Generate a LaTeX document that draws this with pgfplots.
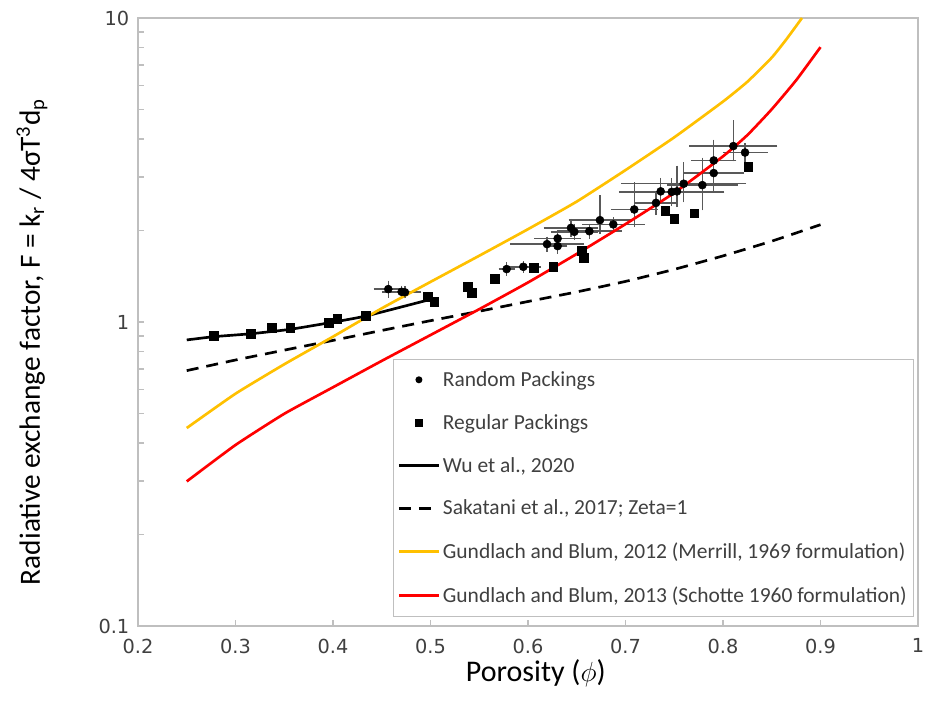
\documentclass[border=0pt]{standalone}
\usepackage{fontspec}
\setmainfont{Carlito}
\newfontfamily\tickfont{DejaVu Sans}
\usepackage{pgfplots}
\pgfplotsset{compat=1.18}
\definecolor{axgray}{HTML}{BFBFBF}
\definecolor{txtgray}{HTML}{404040}
\definecolor{errgray}{HTML}{595959}
\definecolor{gold}{HTML}{FFC000}
\definecolor{pred}{HTML}{FF0000}

\pgfplotstableread{
x y ex eyp eym
0.4567 1.283 0.011 0.045 0.045
0.4704 1.257 0.016 0.020 0.020
0.4738 1.252 0.004 0.020 0.020
0.5781 1.493 0.004 0.030 0.030
0.5952 1.519 0.014 0.020 0.020
0.6195 1.804 0.034 0.050 0.050
0.6304 1.777 0.006 0.050 0.050
0.6304 1.883 0.020 0.060 0.060
0.6441 2.040 0.024 0.080 0.080
0.6475 1.980 0.020 0.060 0.060
0.6629 1.990 0.029 0.050 0.050
0.6738 2.163 0.028 0.370 0.150
0.6875 2.094 0.028 0.050 0.050
0.7090 2.345 0.020 0.450 0.230
0.7313 2.465 0.018 0.150 0.150
0.7361 2.690 0.020 0.200 0.150
0.7474 2.680 0.050 0.200 0.200
0.7528 2.690 0.030 0.480 0.230
0.7597 2.850 0.060 0.400 0.300
0.7788 2.820 0.032 0.550 0.420
0.7905 3.090 0.027 0.300 0.300
0.7905 3.400 0.019 0.460 0.300
0.8106 3.790 0.041 0.680 0.310
0.8226 3.610 0.019 0.150 0.150
}\randomdata

\pgfplotstableread{
x y
0.2779 0.900
0.3159 0.915
0.3368 0.958
0.3562 0.958
0.3959 0.995
0.4044 1.023
0.4335 1.046
0.4971 1.211
0.5039 1.163
0.5381 1.306
0.5422 1.248
0.5662 1.384
0.6058 1.512
0.6260 1.519
0.6554 1.715
0.6571 1.623
0.7408 2.320
0.7500 2.180
0.7705 2.280
0.8260 3.250
}\regulardata

\pgfplotstableread{
x y
0.250 0.873
0.278 0.895
0.316 0.915
0.356 0.946
0.397 0.995
0.4335 1.046
0.497 1.180
}\wudata

\pgfplotstableread{
x y
0.25 0.692
0.30 0.750
0.35 0.808
0.40 0.870
0.45 0.938
0.50 1.010
0.55 1.085
0.60 1.168
0.65 1.256
0.70 1.360
0.75 1.490
0.80 1.650
0.85 1.845
0.90 2.090
}\sakatanidata

\pgfplotstableread{
x y
0.25 0.448
0.30 0.581
0.35 0.726
0.40 0.895
0.45 1.109
0.50 1.355
0.55 1.652
0.60 2.020
0.65 2.490
0.70 3.160
0.75 4.050
0.80 5.310
0.825 6.170
0.85 7.410
0.865 8.510
0.881 10.00
}\merrilldata

\pgfplotstableread{
x y
0.25 0.299
0.30 0.394
0.35 0.499
0.40 0.610
0.45 0.745
0.50 0.906
0.55 1.102
0.60 1.349
0.65 1.675
0.70 2.099
0.75 2.661
0.80 3.508
0.825 4.120
0.85 5.010
0.875 6.240
0.90 8.020
}\schottedata

\begin{document}
\begin{tikzpicture}[x=1pt,y=1pt]
\path[use as bounding box] (-103.5,-57.75) rectangle (594.75,469.5);
\begin{axis}[
  at={(0,0)}, anchor=south west,
  scale only axis, width=585pt, height=456pt,
  xmin=0.2, xmax=1, ymin=0.1, ymax=10, ymode=log,
  xtick={0.2,0.3,0.4,0.5,0.6,0.7,0.8,0.9,1.0},
  xticklabels={0.2,0.3,0.4,0.5,0.6,0.7,0.8,0.9,1},
  ytick={0.1,1,10}, yticklabels={0.1,1,10},
  /pgf/number format/assume math mode=true,
  axis line style={axgray, line width=1.1pt},
  tick style={axgray, line width=0.9pt},
  major tick length=4.5pt, minor tick length=4.5pt,
  xtick pos=bottom, ytick pos=left, tick align=inside,
  ticklabel style={font=\tickfont\fontsize{14.5}{16}\selectfont, text=txtgray},
  xticklabel style={yshift=-6pt},
  yticklabel style={xshift=-3pt},
  xlabel={Porosity ($\phi$)},
  ylabel={Radiative exchange factor, F = k\textsubscript{r} / 4σT\textsuperscript{3}d\textsubscript{p}},
  label style={text=black},
  xlabel style={font=\fontsize{22.5}{26}\selectfont, at={(axis description cs:0.51,-0.078)}, anchor=center},
  ylabel style={font=\fontsize{22}{26}\selectfont, at={(axis description cs:-0.136,0.467)}, anchor=center, rotate=0},
  legend style={at={(0.327,0.015)}, anchor=south west, draw=axgray, line width=0.8pt,
    font=\fontsize{16.1}{19}\selectfont, text=txtgray, row sep=15.5pt,
    inner xsep=3pt, inner ysep=7pt},
  legend cell align=left,
  legend image code/.code={\draw[mark repeat=2,mark phase=2,#1] plot coordinates {(0pt,0pt) (15pt,0pt) (30pt,0pt)};},
]
\addplot[only marks, mark=*, mark size=3pt, black,
  legend image post style={mark size=2.2pt},
  error bars/.cd, x dir=both, x explicit, y dir=both, y explicit,
  error bar style={errgray, line width=1.1pt},
  error mark options={errgray, line width=1.1pt, mark size=3pt}]
  table[x=x, y=y, x error=ex, y error plus=eyp, y error minus=eym] {\randomdata};
\addlegendentry{Random Packings}
\addplot[only marks, mark=square*, mark size=3.3pt, black,
  legend image post style={mark size=2.5pt}] table {\regulardata};
\addlegendentry{Regular Packings}
\addplot[black, line width=2pt, no marks, smooth, tension=0.3] table {\wudata};
\addlegendentry{Wu et al., 2020}
\addplot[black, line width=2pt, no marks, smooth, tension=0.3, dash pattern=on 9pt off 6pt] table {\sakatanidata};
\addlegendentry{Sakatani et al., 2017; Zeta=1}
\addplot[gold, line width=2pt, no marks, smooth, tension=0.3] table {\merrilldata};
\addlegendentry{Gundlach and Blum, 2012 (Merrill, 1969 formulation)}
\addplot[pred, line width=2pt, no marks, smooth, tension=0.3] table {\schottedata};
\addlegendentry{Gundlach and Blum, 2013 (Schotte 1960 formulation)}
\end{axis}
\end{tikzpicture}
\end{document}
